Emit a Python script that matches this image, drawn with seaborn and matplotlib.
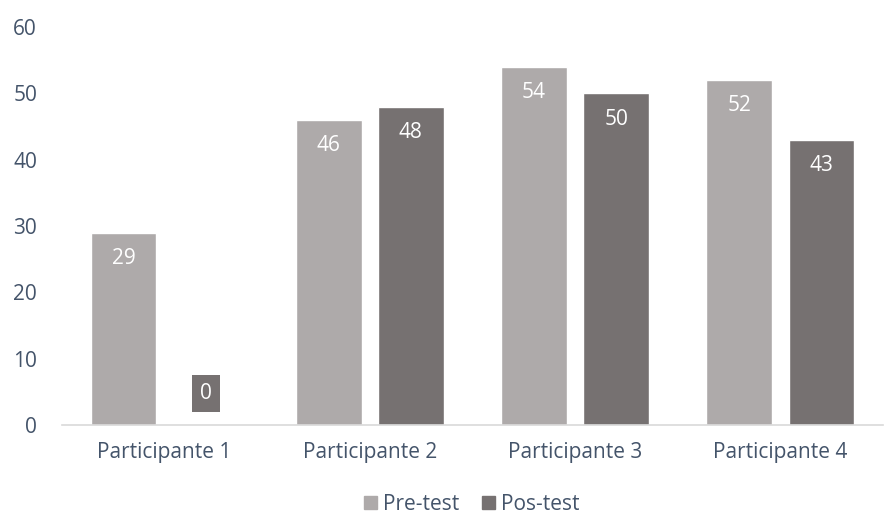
import matplotlib
matplotlib.use("Agg")
import matplotlib.pyplot as plt
import seaborn as sns
import pandas as pd

categories = ["Participante 1", "Participante 2", "Participante 3", "Participante 4"]
pre_test = [29, 46, 54, 52]
pos_test = [0, 48, 50, 43]
series_names = ["Pre-test", "Pos-test"]
yticks = [0, 10, 20, 30, 40, 50, 60]

df = pd.DataFrame({
    "cat": categories * 2,
    "val": pre_test + pos_test,
    "serie": [series_names[0]] * 4 + [series_names[1]] * 4,
})

sns.set_theme(style="white")
plt.rcParams["font.family"] = ["Open Sans", "DejaVu Sans"]
text_col = "#44546A"
palette = {"Pre-test": "#AEAAAA", "Pos-test": "#767171"}
fs = 15

fig = plt.figure(figsize=(8.96, 5.16), dpi=100)
ax = fig.add_axes([62 / 896, 1 - 425 / 516, (883 - 62) / 896, (425 - 27) / 516])
sns.barplot(data=df, x="cat", y="val", hue="serie", palette=palette, width=0.8,
            gap=0.2, saturation=1, ax=ax, legend=False)

ax.set_xlim(-0.5, 3.5)
ax.set_ylim(0, 60)
ax.set_yticks(yticks)
ax.set_xlabel("")
ax.set_ylabel("")
for s in ["top", "right", "left"]:
    ax.spines[s].set_visible(False)
ax.spines["bottom"].set_color("#D9D9D9")
ax.spines["bottom"].set_linewidth(1.2)
ax.tick_params(axis="y", length=0, pad=18, labelsize=fs, labelcolor=text_col)
ax.tick_params(axis="x", length=0, pad=12, labelsize=fs, labelcolor=text_col)

# data labels
for container, vals in zip(ax.containers, [pre_test, pos_test]):
    for bar, v in zip(container, vals):
        cx = bar.get_x() + bar.get_width() / 2
        if v > 0:
            ax.text(cx, v - 3.9, f"{v}", ha="center", va="center", color="white", fontsize=fs)
        else:
            ax.text(cx, 4.75, f"{v}", ha="center", va="center", color="white", fontsize=fs,
                    bbox=dict(boxstyle="square,pad=0.38", fc=palette["Pos-test"], ec="none"))

# legend
from matplotlib.patches import Patch
handles = [Patch(color=palette[n]) for n in series_names]
fig.legend(handles, series_names, loc="center", bbox_to_anchor=(472 / 896, 1 - 504 / 516), ncol=2,
           frameon=False, fontsize=fs, handlelength=0.6, handleheight=0.6, handletextpad=0.3,
           columnspacing=1.1, labelcolor=text_col, borderpad=0)

fig.savefig("out.png", dpi=100)
